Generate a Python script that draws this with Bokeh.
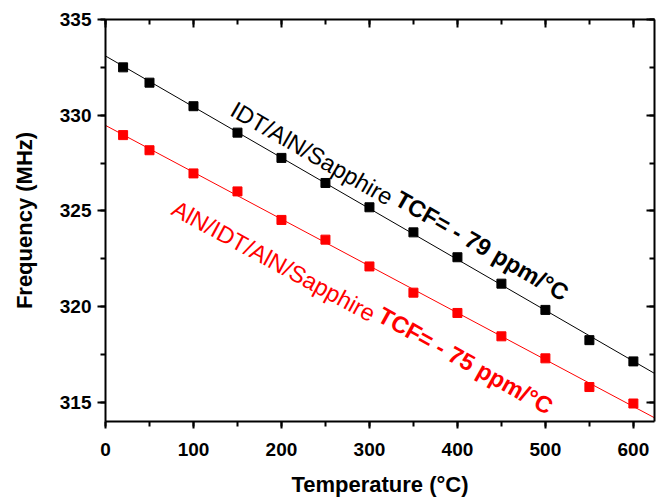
import numpy as np
from bokeh.plotting import figure
from bokeh.models import LinearAxis, Range1d, Label, SingleIntervalTicker
from bokeh.embed import file_html
from bokeh.resources import INLINE

# ---- data ----
temperature = [20, 50, 100, 150, 200, 250, 300, 350, 400, 450, 500, 550, 600]
freq_idt_aln_sapphire = [332.50, 331.70, 330.47, 329.09, 327.77, 326.46, 325.19,
                         323.88, 322.58, 321.20, 319.83, 318.25, 317.14]
freq_aln_idt_aln_sapphire = [328.96, 328.17, 326.96, 326.02, 324.53, 323.50, 322.10,
                             320.73, 319.67, 318.45, 317.30, 315.80, 314.94]
label_idt = "IDT/AlN/Sapphire "
label_idt_tcf = "TCF= - 79 ppm/°C"
label_aln = "AlN/IDT/AlN/Sapphire "
label_aln_tcf = "TCF= - 75 ppm/°C"
x_title = "Temperature (°C)"
y_title = "Frequency (MHz)"

X_START, X_END = 0, 624
Y_START, Y_END = 314, 335
FONT = "Liberation Sans"
RED = "#ff0000"

p = figure(width=656, height=499, x_range=Range1d(X_START, X_END),
           y_range=Range1d(Y_START, Y_END), output_backend="svg",
           toolbar_location=None, min_border_left=105, min_border_top=19,
           min_border_right=2, min_border_bottom=75)
p.grid.visible = False
p.outline_line_color = None
p.background_fill_color = "white"
p.border_fill_color = "white"

p.xaxis.ticker = SingleIntervalTicker(interval=100, num_minor_ticks=2)
p.yaxis.ticker = SingleIntervalTicker(interval=5, num_minor_ticks=2)

for ax in (p.xaxis[0], p.yaxis[0]):
    ax.axis_line_width = 2
    ax.major_tick_line_width = 2
    ax.minor_tick_line_width = 2
    ax.major_tick_in = 0
    ax.minor_tick_in = 0
    ax.major_label_text_font = FONT
    ax.major_label_text_font_style = "bold"
    ax.major_label_text_font_size = "19px"
    ax.major_label_text_color = "black"
    ax.axis_label_text_font = FONT
    ax.axis_label_text_font_style = "bold"
    ax.axis_label_text_font_size = "22px"
    ax.axis_label_text_color = "black"

p.xaxis.major_tick_out = 7
p.xaxis.minor_tick_out = 5
p.xaxis.major_label_standoff = 14
p.xaxis.axis_label = x_title
p.xaxis.axis_label_standoff = 13
p.yaxis.major_tick_out = 8
p.yaxis.minor_tick_out = 5
p.yaxis.major_label_standoff = 6
p.yaxis.axis_label = y_title
p.yaxis.axis_label_standoff = 20

def mirror_axis(interval):
    return LinearAxis(ticker=SingleIntervalTicker(interval=interval, num_minor_ticks=2),
                      major_tick_in=8, major_tick_out=0, minor_tick_in=5, minor_tick_out=0,
                      axis_line_width=2, major_tick_line_width=2, minor_tick_line_width=2,
                      major_label_text_font_size="1px", major_label_text_color=None,
                      major_label_standoff=0)

p.add_layout(mirror_axis(100), "above")
p.add_layout(mirror_axis(5), "right")

# linear fits through each series
xs = np.array([X_START, X_END], dtype=float)
for ys, color in ((freq_idt_aln_sapphire, "black"), (freq_aln_idt_aln_sapphire, RED)):
    k, b = np.polyfit(np.array(temperature, float), np.array(ys, float), 1)
    p.line(xs, k * xs + b, line_color=color, line_width=1)
    p.scatter(temperature, ys, marker="square", size=9, fill_color=color, line_color=color)

def add_label(x, y, text, color, bold, ang):
    p.add_layout(Label(x=x, y=y, text=text, angle=ang, angle_units="deg",
                       text_font=FONT, text_font_size="23.5px",
                       text_font_style="bold" if bold else "normal",
                       text_color=color, text_align="left", text_baseline="alphabetic"))

add_label(144.5, 330.39, label_idt, "black", False, -30)
add_label(331.5, 325.72, label_idt_tcf, "black", True, -30)
add_label(77.6, 325.21, label_aln, RED, False, -28.5)
add_label(312.0, 319.64, label_aln_tcf, RED, True, -29)

open("out.html", "w").write(file_html(p, INLINE))
